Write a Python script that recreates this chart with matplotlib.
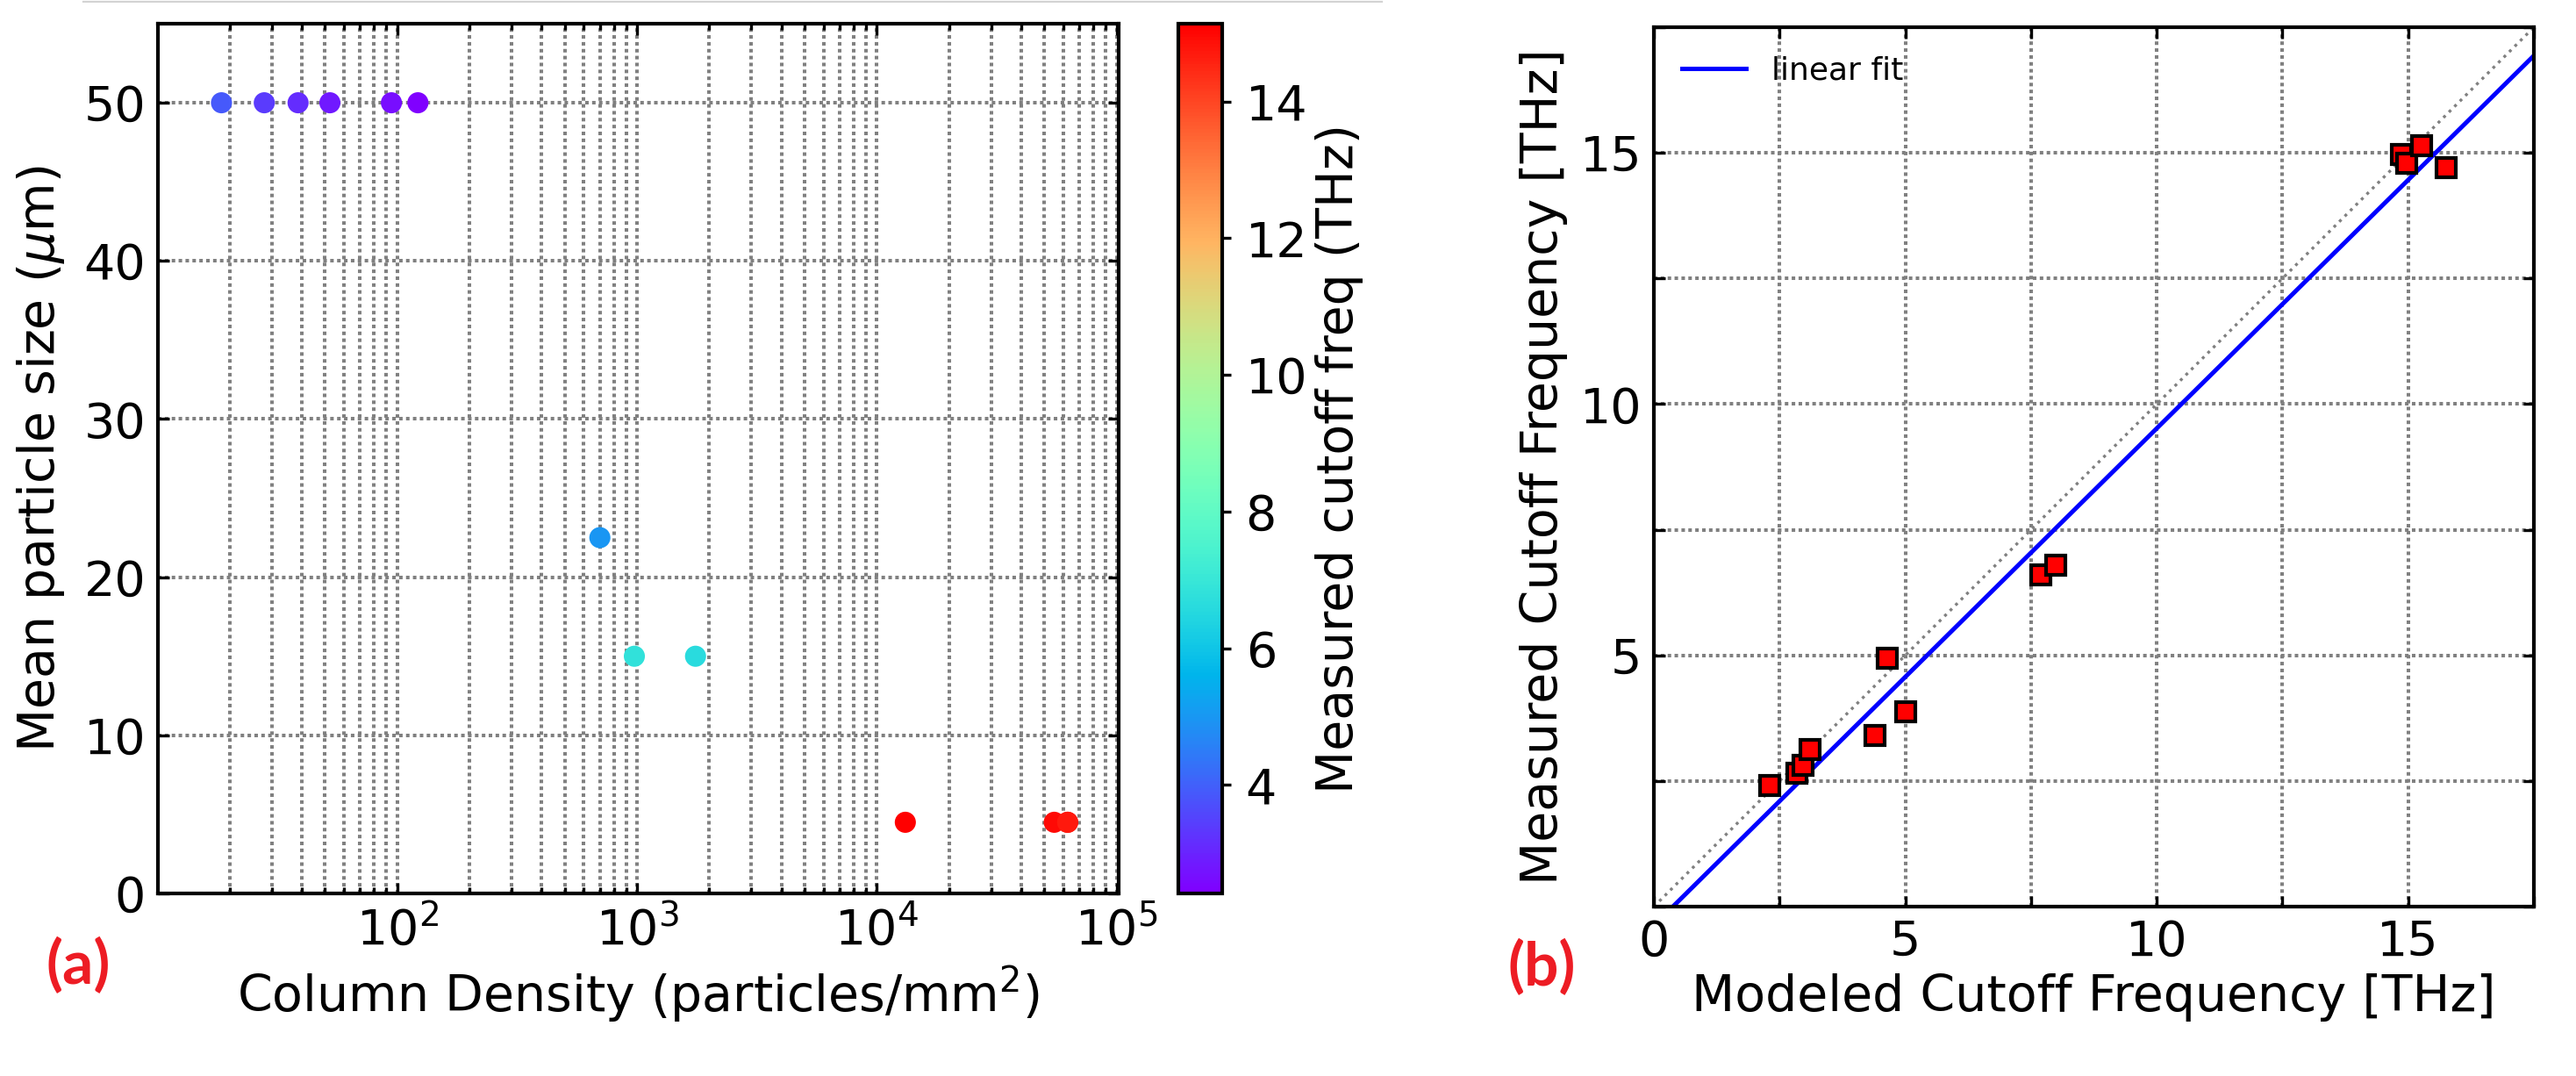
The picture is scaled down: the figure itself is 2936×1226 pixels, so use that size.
import numpy as np
import matplotlib
matplotlib.use("Agg")
import matplotlib.pyplot as plt
from matplotlib.lines import Line2D

# panel (a): column density vs particle size, coloured by measured cutoff
col_density = [18.5, 27.9, 38.6, 52.4, 94.6, 122, 700, 975, 1754, 13150, 54950, 62500, 62500]
particle_size = [50, 50, 50, 50, 50, 50, 22.5, 15, 15, 4.5, 4.5, 4.5, 4.5]
cutoff_meas_a = [3.87, 3.40, 3.12, 2.82, 2.65, 2.41, 4.95, 6.80, 6.61, 15.14, 14.97, 14.80, 14.71]
size_ticks = [0, 10, 20, 30, 40, 50]
cbar_ticks = [4, 6, 8, 10, 12, 14]

# panel (b): modeled vs measured cutoff
modeled = [2.31, 2.84, 2.97, 3.11, 4.40, 4.64, 5.00, 7.70, 7.99, 14.87, 14.97, 15.27, 15.76]
measured = [2.41, 2.65, 2.82, 3.12, 3.40, 4.95, 3.87, 6.61, 6.80, 14.97, 14.80, 15.14, 14.71]
fit_slope = 0.989
fit_intercept = -0.374
b_ticks = [0, 2.5, 5, 7.5, 10, 12.5, 15, 17.5]
b_xlabels = ['0', '', '5', '', '10', '', '15', '']
b_ylabels = ['', '', '5', '', '10', '', '15', '']

W, H, DPI = 2936, 1226, 200
fig = plt.figure(figsize=(W / DPI, H / DPI), dpi=DPI)

ax_a = fig.add_axes([180 / W, 1 - 1018 / H, 1095 / W, 991 / H])
cax = fig.add_axes([1343 / W, 1 - 1018 / H, 50 / W, 991 / H])
ax_b = fig.add_axes([1885 / W, 1 - 1033 / H, 1003 / W, 1002 / H])

grid_style = dict(ls=(0, (1, 0.95)), color='gray', lw=1.45)

# ---- (a)
sc = ax_a.scatter(col_density, particle_size, c=cutoff_meas_a, cmap='rainbow',
                  s=75, edgecolors='none', zorder=3)
ax_a.set_xscale('log')
ax_a.set_xlim(10.05, 1.02e5)
ax_a.set_ylim(0, 55)
ax_a.set_yticks(size_ticks)
ax_a.grid(True, which='both', axis='x', **grid_style)
ax_a.grid(True, which='major', axis='y', **grid_style)
ax_a.tick_params(which='both', direction='in', top=True, right=True,
                 labelsize=20, width=1.2, pad=5)
ax_a.tick_params(which='major', length=4.5)
ax_a.tick_params(which='minor', length=2.5)
ax_a.set_xlabel('Column Density (particles/mm$^2$)', fontsize=20.5, labelpad=4)
ax_a.set_ylabel(r'Mean particle size ($\mu$m)', fontsize=20.5, labelpad=7)
for sp in ax_a.spines.values():
    sp.set_linewidth(1.5)

cb = fig.colorbar(sc, cax=cax)
cb.set_ticks(cbar_ticks)
cb.outline.set_linewidth(1.5)
cax.tick_params(direction='out', length=3.6, width=1.2, labelsize=20, pad=6)
cb.set_label('Measured cutoff freq (THz)', fontsize=20.5, labelpad=3)

# ---- (b)
xx = np.array([0, 17.5])
ax_b.plot(xx, xx, ls=':', color='gray', lw=1.2, zorder=2)
ax_b.plot(xx, fit_slope * xx + fit_intercept, color='blue', lw=1.8,
          label='linear fit', zorder=2)
ax_b.plot(modeled, measured, 's', color='red', mec='black', mew=1.5, ms=8,
          zorder=3)
ax_b.set_xlim(0, 17.5)
ax_b.set_ylim(0, 17.5)
ax_b.set_xticks(b_ticks)
ax_b.set_xticklabels(b_xlabels)
ax_b.set_yticks(b_ticks)
ax_b.set_yticklabels(b_ylabels)
ax_b.grid(True, **grid_style)
ax_b.tick_params(direction='in', top=True, right=True, labelsize=20,
                 width=1.2, length=4.5, pad=5)
ax_b.set_xlabel('Modeled Cutoff Frequency [THz]', fontsize=20.5, labelpad=3)
ax_b.set_ylabel('Measured Cutoff Frequency [THz]', fontsize=20.5, labelpad=5)
ax_b.legend(loc='upper left', frameon=False, fontsize=13)
for sp in ax_b.spines.values():
    sp.set_linewidth(1.5)

# panel letters
fig.text(89 / W, 1 - 1100 / H, '(a)', ha='center', va='center', color='#ED1C24',
         fontsize=25, fontweight='bold', family=['Lato', 'DejaVu Sans'])
fig.text(1757 / W, 1 - 1103 / H, '(b)', ha='center', va='center', color='#ED1C24',
         fontsize=25, fontweight='bold', family=['Lato', 'DejaVu Sans'])

# faint rule along the top edge
fig.add_artist(Line2D([95 / W, 1575 / W], [1 - 1.5 / H] * 2, color='#d3d3d3', lw=0.8))

fig.savefig('out.png', dpi=DPI)
